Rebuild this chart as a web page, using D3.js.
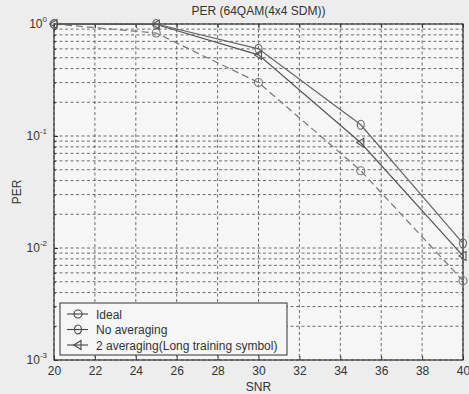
<!DOCTYPE html>
<html>
<head>
<meta charset="utf-8">
<script src="https://cdn.jsdelivr.net/npm/d3@7"></script>
<style>
  body { margin: 0; background: #ededed; }
  svg { display: block; font-family: "Liberation Sans", Arial, sans-serif; }
</style>
</head>
<body>
<div id="chart"></div>
<script>
// data
const snr = [20, 25, 30, 35, 40];
const ideal = [1.0, 0.83, 0.30, 0.049, 0.0051];
const noAveraging = [1.0, 1.0, 0.60, 0.126, 0.011];
const twoAveraging = [1.0, 0.99, 0.53, 0.087, 0.0085];
const seriesNames = ['Ideal', 'No averaging', '2 averaging(Long training symbol)'];
const xTicks = [20, 22, 24, 26, 28, 30, 32, 34, 36, 38, 40];
const yDecades = [1e-3, 1e-2, 1e-1, 1];
const yExponents = ['-3', '-2', '-1', '0'];

const W = 469, H = 394;
const margin = {top: 24, right: 6, bottom: 34, left: 54};
const width = W - margin.left - margin.right;
const height = H - margin.top - margin.bottom;

const svg = d3.select('#chart').append('svg')
  .attr('width', W)
  .attr('height', H);

svg.append('rect').attr('width', W).attr('height', H).attr('fill', '#ededed');

const g = svg.append('g')
  .attr('transform', 'translate(' + margin.left + ',' + margin.top + ')');

const x = d3.scaleLinear().domain([20, 40]).range([0, width]);
const y = d3.scaleLog().domain([1e-3, 1]).range([height, 0]);

g.append('rect').attr('width', width).attr('height', height).attr('fill', '#f6f6f6');

// minor log values
let minor = [];
for (let e = -3; e < 0; e++) {
  for (let m = 2; m <= 9; m++) minor.push(m * Math.pow(10, e));
}

const gridColor = '#4a4a4a';
g.append('g').selectAll('line')
  .data(yDecades.concat(minor))
  .enter().append('line')
  .attr('x1', 0).attr('x2', width)
  .attr('y1', d => y(d)).attr('y2', d => y(d))
  .attr('stroke', gridColor).attr('stroke-width', 0.8)
  .attr('stroke-dasharray', '3,2.5');

g.append('g').selectAll('line')
  .data(xTicks)
  .enter().append('line')
  .attr('x1', d => x(d)).attr('x2', d => x(d))
  .attr('y1', 0).attr('y2', height)
  .attr('stroke', gridColor).attr('stroke-width', 0.8)
  .attr('stroke-dasharray', '3,2.5');

// axes
const xAxis = d3.axisBottom(x).tickValues(xTicks).tickSizeInner(-4).tickSizeOuter(0).tickPadding(6);
const xg = g.append('g').attr('transform', 'translate(0,' + height + ')').call(xAxis);
xg.select('.domain').remove();
xg.selectAll('text').attr('font-size', 12).attr('fill', '#333').attr('font-family', '"Liberation Sans", Arial, sans-serif');
xg.selectAll('line').attr('stroke', '#333');

const xTop = d3.axisTop(x).tickValues(xTicks).tickSizeInner(-4).tickSizeOuter(0).tickFormat('');
const xt = g.append('g').call(xTop);
xt.select('.domain').remove();
xt.selectAll('line').attr('stroke', '#333');

const yAxis = d3.axisLeft(y).tickValues(yDecades).tickSizeInner(-4).tickSizeOuter(0).tickFormat('');
const yg = g.append('g').call(yAxis);
yg.select('.domain').remove();
yg.selectAll('line').attr('stroke', '#333');
const yMinor = d3.axisLeft(y).tickValues(minor).tickSizeInner(-2).tickSizeOuter(0).tickFormat('');
const ym = g.append('g').call(yMinor);
ym.select('.domain').remove();
ym.selectAll('line').attr('stroke', '#333');

// y tick labels as 10^e
const ylab = g.append('g').selectAll('text')
  .data(yDecades)
  .enter().append('text')
  .attr('x', -7)
  .attr('y', d => y(d) + 4)
  .attr('text-anchor', 'end')
  .attr('font-size', 12)
  .attr('fill', '#333');
ylab.append('tspan').text('10');
ylab.append('tspan').attr('dy', -6).attr('font-size', 8).text((d, i) => yExponents[i]);

// frame
g.append('rect').attr('width', width).attr('height', height)
  .attr('fill', 'none').attr('stroke', '#333').attr('stroke-width', 1.2);

// series
const series = [
  {name: seriesNames[0], vals: ideal, dash: '7,4', color: '#777', marker: 'circle'},
  {name: seriesNames[1], vals: noAveraging, dash: null, color: '#666', marker: 'theta'},
  {name: seriesNames[2], vals: twoAveraging, dash: null, color: '#555', marker: 'tri'}
];

const line = d3.line().x(d => x(d[0])).y(d => y(d[1]));

function drawMarker(sel, type, color) {
  if (type === 'circle') {
    sel.append('circle').attr('r', 4).attr('fill', 'none').attr('stroke', color).attr('stroke-width', 1.1);
  } else if (type === 'theta') {
    sel.append('ellipse').attr('rx', 3.5).attr('ry', 4.5).attr('fill', 'none').attr('stroke', color).attr('stroke-width', 1.1);
  } else {
    sel.append('path').attr('d', 'M-4,0L3,-4.5L3,4.5Z').attr('fill', 'none').attr('stroke', color).attr('stroke-width', 1.1);
  }
}

series.forEach(s => {
  const pts = snr.map((v, i) => [v, s.vals[i]]);
  g.append('path').datum(pts)
    .attr('d', line)
    .attr('fill', 'none')
    .attr('stroke', s.color)
    .attr('stroke-width', 1.2)
    .attr('stroke-dasharray', s.dash);
  pts.forEach(p => {
    const m = g.append('g').attr('transform', 'translate(' + x(p[0]) + ',' + y(p[1]) + ')');
    drawMarker(m, s.marker, s.color);
  });
});

// legend
const lg = g.append('g').attr('transform', 'translate(6,' + (height - 57) + ')');
lg.append('rect').attr('width', 227).attr('height', 52)
  .attr('fill', '#f6f6f6').attr('stroke', '#333').attr('stroke-width', 1);
series.forEach((s, i) => {
  const row = lg.append('g').attr('transform', 'translate(0,' + (11 + i * 15.5) + ')');
  row.append('line').attr('x1', 7).attr('x2', 28).attr('y1', 0).attr('y2', 0)
    .attr('stroke', '#444').attr('stroke-width', 1.1);
  const m = row.append('g').attr('transform', 'translate(18,0)');
  drawMarker(m, s.marker, '#444');
  row.append('text').attr('x', 36).attr('y', 4.5)
    .attr('font-size', 12).attr('fill', '#333').text(s.name);
});

// title and axis labels
svg.append('text').attr('x', margin.left + width / 2).attr('y', 15)
  .attr('text-anchor', 'middle').attr('font-size', 12).attr('fill', '#333')
  .text('PER (64QAM(4x4 SDM))');
svg.append('text').attr('x', margin.left + width / 2).attr('y', 391)
  .attr('text-anchor', 'middle').attr('font-size', 12).attr('fill', '#333')
  .text('SNR');
svg.append('text')
  .attr('transform', 'translate(21,' + (margin.top + height / 2) + ') rotate(-90)')
  .attr('text-anchor', 'middle').attr('font-size', 12).attr('fill', '#333')
  .text('PER');
</script>
</body>
</html>
